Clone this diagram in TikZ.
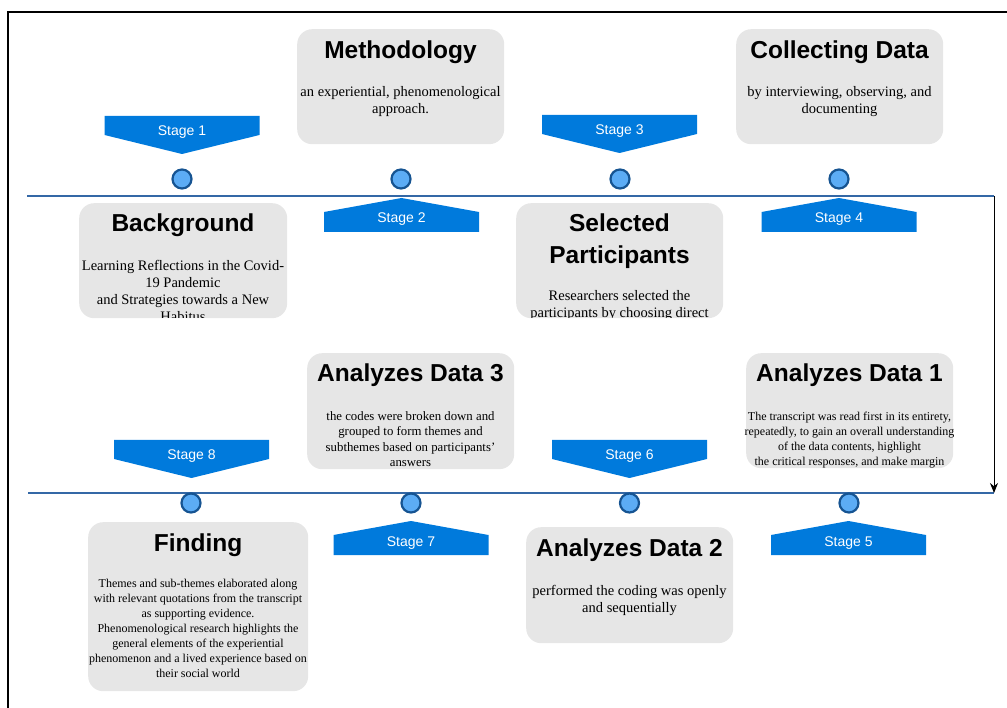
\documentclass[tikz,border=0pt]{standalone}
\usepackage{fontspec}
\setmainfont{Liberation Serif}
\setsansfont{Liberation Sans}
\usetikzlibrary{arrows.meta}

\definecolor{stageblue}{RGB}{0,122,220}
\definecolor{lineblue}{RGB}{52,104,166}
\definecolor{dotfill}{RGB}{92,172,245}
\definecolor{dotedge}{RGB}{22,84,146}
\definecolor{cardgray}{RGB}{230,230,230}

\tikzset{
  card/.style={fill=cardgray, rounded corners=15pt, inner sep=0pt, anchor=north west},
  cardtitle/.style={font=\sffamily\bfseries\fontsize{24.5}{32}\selectfont, anchor=north, inner sep=0pt, align=center},
  bodybig/.style={font=\fontsize{14.5}{17}\selectfont, anchor=north, inner sep=0pt, align=center},
  bodysmall/.style={font=\fontsize{12}{15.2}\selectfont, anchor=north, inner sep=0pt, align=center},
  timeline/.style={draw=lineblue, line width=2pt},
  dot/.style={circle, draw=dotedge, fill=dotfill, line width=2.2pt, minimum size=19pt, inner sep=0pt},
  stagefill/.style={fill=stageblue},
  stagetext/.style={font=\sffamily\fontsize{14}{14}\selectfont, text=white, inner sep=0pt, text height=10pt, text depth=0pt},
  flow/.style={draw=black, line width=1pt, -{Stealth[length=10pt,width=8pt]}},
  frameline/.style={draw=black, line width=1.4pt},
}

% banner pointing down: name, centre x, top y, label
\newcommand\stagedown[4]{%
  \fill[stagefill] (#2-77.5,#3) -- (#2+77.5,#3) -- (#2+77.5,#3+19) -- (#2,#3+38) -- (#2-77.5,#3+19) -- cycle;
  \node[stagetext] (#1) at (#2,#3+15) {#4};}
% banner pointing up: name, centre x, tip y, label
\newcommand\stageup[4]{%
  \fill[stagefill] (#2,#3) -- (#2+77.5,#3+14) -- (#2+77.5,#3+34) -- (#2-77.5,#3+34) -- (#2-77.5,#3+14) -- cycle;
  \node[stagetext] (#1) at (#2,#3+20) {#4};}

\begin{document}
\begin{tikzpicture}[x=1pt,y=-1pt]
\useasboundingbox (0,0) rectangle (1007,708);

% outer frame (left and top edges)
\draw[frameline] (8,708) -- (8,12) -- (1007,12);

% timelines
\coordinate (t1L) at (27,196);
\coordinate (t1R) at (994,196);
\coordinate (t2L) at (28,493);
\coordinate (t2R) at (994,493);
\draw[timeline] (t1L) -- (t1R);
\draw[timeline] (t2L) -- (t2R);
\draw[flow] (t1R) -- (t2R);

% markers
\node[dot] (c1) at (182,179) {};
\node[dot] (c2) at (401,179) {};
\node[dot] (c3) at (620,179) {};
\node[dot] (c4) at (839,179) {};
\node[dot] (c5) at (849,503) {};
\node[dot] (c6) at (629.5,503) {};
\node[dot] (c7) at (411,503) {};
\node[dot] (c8) at (191,503) {};

% stage banners
\stagedown{s1}{182}{116}{Stage 1}
\stageup{s2}{401.5}{198}{Stage 2}
\stagedown{s3}{619.5}{115}{Stage 3}
\stageup{s4}{839}{198}{Stage 4}
\stageup{s5}{848.5}{521}{Stage 5}
\stagedown{s6}{629.5}{440}{Stage 6}
\stageup{s7}{411}{521}{Stage 7}
\stagedown{s8}{191.5}{440}{Stage 8}

% Background
\node[card, minimum width=208pt, minimum height=115pt] (b1) at (79,203) {};
\begin{scope}
  \clip[rounded corners=15pt] (79,203) rectangle (287,318);
  \node[cardtitle] (b1t) at (183,214) {Background};
  \node[bodybig] (b1b) at (183,260.5) {Learning Reflections in the Covid-\\19 Pandemic\\and Strategies towards a New\\Habitus};
\end{scope}

% Methodology
\node[card, minimum width=207pt, minimum height=115pt] (b2) at (297,29) {};
\node[cardtitle] (b2t) at (400.5,41) {Methodology};
\node[bodybig] (b2b) at (400.5,86.5) {an experiential, phenomenological\\approach.};

% Selected Participants
\node[card, minimum width=207pt, minimum height=115pt] (b3) at (516,203) {};
\begin{scope}
  \clip[rounded corners=15pt] (516,203) rectangle (723,318);
  \node[cardtitle] (b3t) at (619.5,214) {Selected\\Participants};
  \node[bodybig] (b3b) at (619.5,290.5) {Researchers selected the\\participants by choosing direct};
\end{scope}

% Collecting Data
\node[card, minimum width=207pt, minimum height=115pt] (b4) at (736,29) {};
\node[cardtitle] (b4t) at (839.5,41) {Collecting Data};
\node[bodybig] (b4b) at (839.5,86.5) {by interviewing, observing, and\\documenting};

% Analyzes Data 1
\node[card, minimum width=207pt, minimum height=115pt] (b5) at (746,353) {};
\node[cardtitle] (b5t) at (849.5,364) {Analyzes Data 1};
\node[bodysmall] (b5b) at (849.5,411.5) {The transcript was read first in its entirety,\\repeatedly, to gain an overall understanding\\of the data contents, highlight\\the critical responses, and make margin};

% Analyzes Data 2
\node[card, minimum width=207pt, minimum height=116pt] (b6) at (526,527) {};
\node[cardtitle] (b6t) at (629.5,539) {Analyzes Data 2};
\node[bodybig] (b6b) at (629.5,585.5) {performed the coding was openly\\and sequentially};

% Analyzes Data 3
\node[card, minimum width=207pt, minimum height=116pt] (b7) at (307,353) {};
\node[cardtitle] (b7t) at (410.5,364) {Analyzes Data 3};
\node[bodysmall, font=\fontsize{12.8}{15.3}\selectfont] (b7b) at (410.5,411.5) {the codes were broken down and\\grouped to form themes and\\subthemes based on participants'\\answers};

% Finding
\node[card, minimum width=220pt, minimum height=169pt] (b8) at (88,522) {};
\node[cardtitle] (b8t) at (198,534) {Finding};
\node[bodysmall, font=\fontsize{12}{15}\selectfont] (b8b) at (198,579.3) {Themes and sub-themes elaborated along\\with relevant quotations from the transcript\\as supporting evidence.\\Phenomenological research highlights the\\general elements of the experiential\\phenomenon and a lived experience based on\\their social world};

\end{tikzpicture}
\end{document}
